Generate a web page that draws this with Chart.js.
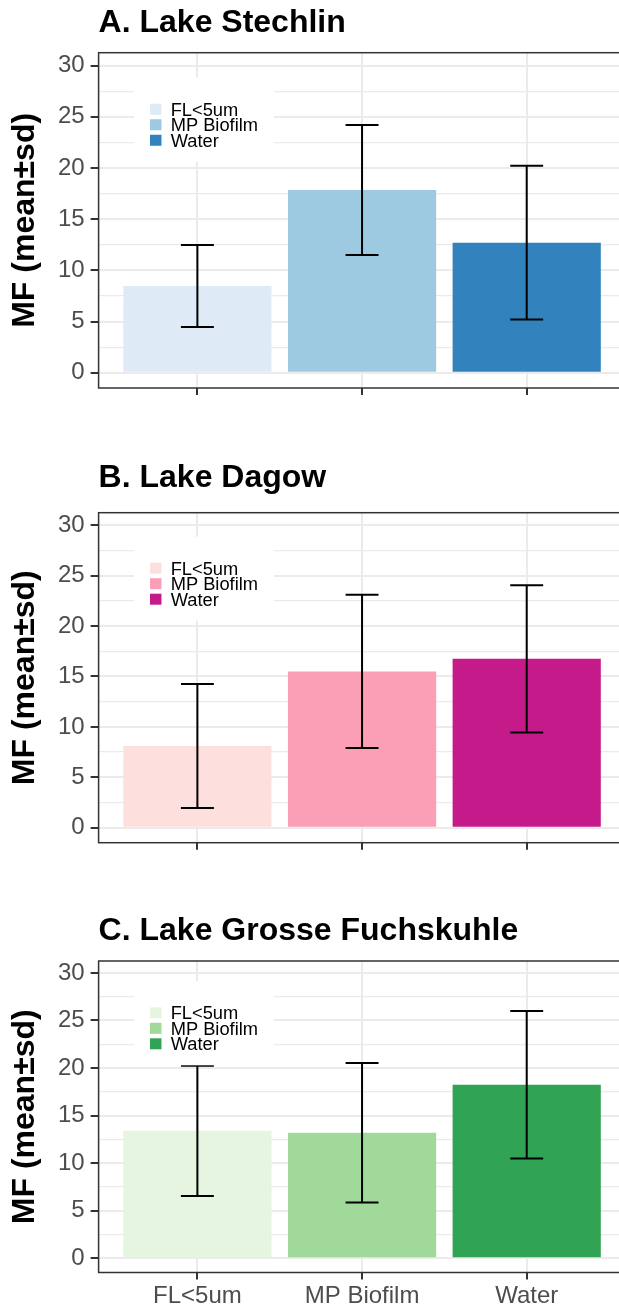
<!DOCTYPE html>
<html>
<head>
<meta charset="utf-8">
<title>MF by fraction in three lakes</title>
<script src="https://cdn.jsdelivr.net/npm/chart.js@4.4.1/dist/chart.umd.min.js"></script>
<style>
  html, body { margin: 0; padding: 0; background: #ffffff; }
  body { width: 619px; height: 1306px; overflow: hidden; position: relative; }
  .panel { position: absolute; left: 0; }
  canvas { display: block; }
</style>
</head>
<body>
<div class="panel" style="top:0px"><canvas id="lakeA" width="630" height="455"></canvas></div>
<div class="panel" style="top:455px"><canvas id="lakeB" width="630" height="455"></canvas></div>
<div class="panel" style="top:906px"><canvas id="lakeC" width="630" height="420"></canvas></div>
<script>
// ---- data ----
const categories = ['FL<5um', 'MP Biofilm', 'Water'];
const yTickValues = [0, 5, 10, 15, 20, 25, 30];

const stechlinMean = [8.47, 17.85, 12.7];
const stechlinSd   = [4.0, 6.35, 7.5];

const dagowMean = [8.1, 15.5, 16.75];
const dagowSd   = [6.15, 7.6, 7.3];

const fuchskuhleMean = [13.4, 13.2, 18.25];
const fuchskuhleSd   = [6.85, 7.33, 7.75];

const stechlinColors   = ['#DEEBF7', '#9ECAE1', '#3182BD'];
const dagowColors      = ['#FDE0DD', '#FA9FB5', '#C51B8A'];
const fuchskuhleColors = ['#E5F5E0', '#A1D99B', '#31A354'];

const FONT = "'Liberation Sans', Arial, Helvetica, sans-serif";

// mean ± sd whiskers with caps, drawn through the chart's scales
const errorBarsPlugin = {
  id: 'errorBars',
  afterDatasetsDraw(chart, args, opts) {
    const xs = chart.scales.x, ys = chart.scales.y;
    const ctx = chart.ctx;
    const points = chart.data.datasets[0].data;
    ctx.save();
    ctx.strokeStyle = '#000000';
    ctx.lineWidth = 2;
    points.forEach((p, i) => {
      const sd = opts.sd[i];
      const x = xs.getPixelForValue(p.x);
      const half = xs.getPixelForValue(p.x + opts.capHalfWidth) - x;
      const yHi = ys.getPixelForValue(p.y + sd);
      const yLo = ys.getPixelForValue(p.y - sd);
      ctx.beginPath();
      ctx.moveTo(x, yHi); ctx.lineTo(x, yLo);
      ctx.moveTo(x - half, yHi); ctx.lineTo(x + half, yHi);
      ctx.moveTo(x - half, yLo); ctx.lineTo(x + half, yLo);
      ctx.stroke();
    });
    ctx.restore();
  }
};

// fill legend placed inside the panel
const innerLegendPlugin = {
  id: 'innerLegend',
  afterDraw(chart, args, opts) {
    const {left, top, right, bottom} = chart.chartArea;
    const ctx = chart.ctx;
    const cx = left + opts.posX * (right - left);
    const cy = top + (1 - opts.posY) * (bottom - top);
    ctx.save();
    ctx.fillStyle = '#ffffff';
    ctx.fillRect(cx - 70, cy - 42, 140, 84);
    ctx.font = '18.3px ' + FONT;
    ctx.textBaseline = 'alphabetic';
    ctx.textAlign = 'left';
    opts.labels.forEach((label, i) => {
      const keyTop = cy - 16 + i * 15.5;
      ctx.fillStyle = opts.colors[i];
      ctx.fillRect(cx - 54, keyTop, 11.5, 11);
      ctx.fillStyle = '#000000';
      ctx.fillText(label, cx - 33.3, keyTop + 12);
    });
    ctx.restore();
  }
};

// panel border around the plotting area
const panelFramePlugin = {
  id: 'panelFrame',
  afterDraw(chart) {
    const {left, top, right, bottom} = chart.chartArea;
    const ctx = chart.ctx;
    ctx.save();
    ctx.strokeStyle = '#333333';
    ctx.lineWidth = 1.5;
    ctx.strokeRect(left, top, right - left, bottom - top);
    ctx.restore();
  }
};

function buildPanel(id, titleText, means, sds, colors, frame) {
  const points = means.map((m, i) => ({x: i + 1, y: m}));
  const minorAndMajor = [];
  yTickValues.forEach((v, i) => {
    minorAndMajor.push(v);
    if (i < yTickValues.length - 1) minorAndMajor.push((v + yTickValues[i + 1]) / 2);
  });
  const isMajor = v => yTickValues.includes(v);

  return new Chart(document.getElementById(id), {
    type: 'bar',
    data: {
      datasets: [{
        data: points,
        backgroundColor: colors,
        borderWidth: 0,
        categoryPercentage: 1,
        barPercentage: 0.9
      }]
    },
    options: {
      responsive: false,
      animation: false,
      devicePixelRatio: 1,
      layout: { padding: { left: 0, right: 4.5, top: 0, bottom: 0 } },
      plugins: {
        legend: { display: false },
        tooltip: { enabled: false },
        title: {
          display: true,
          text: titleText,
          align: 'start',
          fullSize: false,
          color: '#000000',
          font: { family: FONT, size: 32, weight: 'bold' },
          padding: { top: frame.titleTop, bottom: frame.titleBottom }
        },
        errorBars: { sd: sds, capHalfWidth: 0.1 },
        innerLegend: { labels: categories, colors: colors, posX: 0.2, posY: 0.8 }
      },
      scales: {
        x: {
          type: 'linear',
          min: 0.4,
          max: 3.6,
          offset: false,
          afterBuildTicks: s => { s.ticks = categories.map((c, i) => ({ value: i + 1 })); },
          afterFit: s => { s.height = frame.xAxisHeight; },
          grid: {
            offset: false,
            color: '#EBEBEB',
            lineWidth: 2,
            drawTicks: true,
            tickLength: 7,
            tickColor: '#333333',
            tickWidth: 2
          },
          border: { display: false },
          ticks: {
            padding: 2,
            color: '#4D4D4D',
            autoSkip: false,
            maxRotation: 0,
            font: { family: FONT, size: 24 },
            callback: v => frame.showXLabels ? categories[Math.round(v) - 1] : ''
          }
        },
        y: {
          type: 'linear',
          min: -1.49,
          max: 31.25,
          afterBuildTicks: s => { s.ticks = minorAndMajor.map(v => ({ value: v })); },
          afterFit: s => { s.width = 98.6; },
          grid: {
            color: '#EBEBEB',
            lineWidth: c => (c.tick && isMajor(c.tick.value)) ? 2 : 1.2,
            drawTicks: true,
            tickLength: 8,
            tickWidth: 2,
            tickColor: c => (c.tick && isMajor(c.tick.value)) ? '#333333' : 'rgba(0,0,0,0)'
          },
          border: { display: false },
          ticks: {
            padding: 6,
            color: '#4D4D4D',
            autoSkip: false,
            font: { family: FONT, size: 24 },
            callback: v => isMajor(v) ? String(v) : ''
          },
          title: {
            display: true,
            text: 'MF (mean±sd)',
            color: '#000000',
            font: { family: FONT, size: 32, weight: 'bold' },
            padding: { top: 5.8, bottom: 0 }
          }
        }
      }
    },
    plugins: [errorBarsPlugin, innerLegendPlugin, panelFramePlugin]
  });
}

buildPanel('lakeA', 'A. Lake Stechlin', stechlinMean, stechlinSd, stechlinColors,
  { titleTop: 4.2, titleBottom: 10.1, xAxisHeight: 67, showXLabels: false });
buildPanel('lakeB', 'B. Lake Dagow', dagowMean, dagowSd, dagowColors,
  { titleTop: 4.2, titleBottom: 15.1, xAxisHeight: 67.3, showXLabels: false });
buildPanel('lakeC', 'C. Lake Grosse Fuchskuhle', fuchskuhleMean, fuchskuhleSd, fuchskuhleColors,
  { titleTop: 5.9, titleBottom: 10.7, xAxisHeight: 53.5, showXLabels: true });
</script>
</body>
</html>
